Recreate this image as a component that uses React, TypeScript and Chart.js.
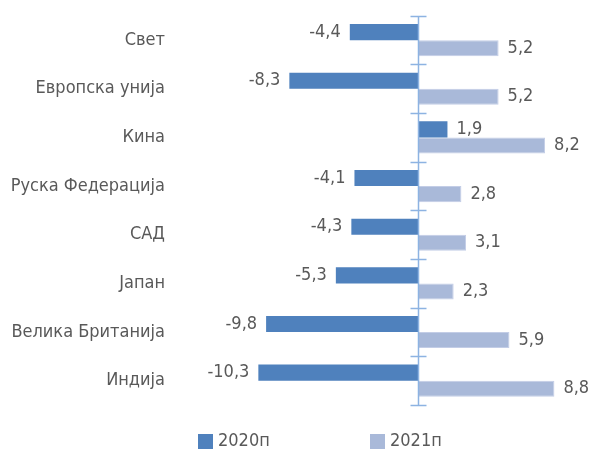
import React, { useEffect, useRef } from "react";
import { Chart, registerables } from "chart.js";

Chart.register(...registerables);

const categories = [
  "Свет",
  "Европска унија",
  "Кина",
  "Руска Федерација",
  "САД",
  "Јапан",
  "Велика Британија",
  "Индија",
];
const series2020 = [-4.4, -8.3, 1.9, -4.1, -4.3, -5.3, -9.8, -10.3];
const series2021 = [5.2, 5.2, 8.2, 2.8, 3.1, 2.3, 5.9, 8.8];
const seriesNames = ["2020п", "2021п"];

const DARK = "#4f81bd";
const LIGHT = "#a9b9d9";
const TEXT = "#595959";
const AXIS = "#8db3e2";
const FONT = "'DejaVu Sans Condensed', 'Liberation Sans Narrow', sans-serif";

const fmt = (v: number) => v.toFixed(1).replace(".", ",");

const overlayPlugin = {
  id: "overlay",
  afterDatasetsDraw(chart: any) {
    const { ctx, scales } = chart;
    const x = scales.x;
    const x0 = Math.round(x.getPixelForValue(0)) + 0.5;
    ctx.save();
    // zero axis with tick marks at category boundaries
    ctx.strokeStyle = AXIS;
    ctx.lineWidth = 1.5;
    ctx.beginPath();
    ctx.moveTo(x0, chart.chartArea.top);
    ctx.lineTo(x0, chart.chartArea.bottom);
    const n = categories.length;
    const step = (chart.chartArea.bottom - chart.chartArea.top) / n;
    for (let i = 0; i <= n; i++) {
      const yy = Math.round(chart.chartArea.top + i * step) + 0.5;
      ctx.moveTo(x0 - 8, yy);
      ctx.lineTo(x0 + 8, yy);
    }
    ctx.stroke();

    // data labels
    ctx.font = `18px ${FONT}`;
    ctx.fillStyle = TEXT;
    ctx.textBaseline = "middle";
    chart.data.datasets.forEach((ds: any, di: number) => {
      const meta = chart.getDatasetMeta(di);
      meta.data.forEach((bar: any, i: number) => {
        const v = ds.data[i];
        if (v < 0) {
          ctx.textAlign = "right";
          ctx.fillText(fmt(v), bar.x - 9, bar.y);
        } else {
          ctx.textAlign = "left";
          ctx.fillText(fmt(v), bar.x + 9, bar.y);
        }
      });
    });

    // legend
    const items = [
      { label: seriesNames[0], color: DARK, x: 198 },
      { label: seriesNames[1], color: LIGHT, x: 370 },
    ];
    ctx.textAlign = "left";
    items.forEach((it) => {
      ctx.fillStyle = it.color;
      ctx.fillRect(it.x, 434, 15, 15);
      ctx.fillStyle = TEXT;
      ctx.fillText(it.label, it.x + 20, 441);
    });
    ctx.restore();
  },
};

export default function App() {
  const ref = useRef<HTMLCanvasElement>(null);
  useEffect(() => {
    if (!ref.current) return;
    const chart = new Chart(ref.current, {
      type: "bar",
      data: {
        labels: categories,
        datasets: [
          {
            label: seriesNames[0],
            data: series2020,
            backgroundColor: DARK,
            borderWidth: 0,
          },
          {
            label: seriesNames[1],
            data: series2021,
            backgroundColor: LIGHT,
            borderColor: "#c3cde6",
            borderWidth: 1,
          },
        ],
      },
      options: {
        indexAxis: "y",
        animation: false,
        responsive: true,
        maintainAspectRatio: false,
        layout: { padding: { top: 15, bottom: 45, left: 0, right: 17 } },
        datasets: {
          bar: { categoryPercentage: 0.66, barPercentage: 1 },
        },
        plugins: {
          legend: { display: false },
          tooltip: { enabled: false },
        },
        scales: {
          x: {
            display: false,
            min: -16,
            max: 10,
          },
          y: {
            grid: { display: false, drawTicks: false },
            border: { display: false },
            ticks: {
              color: TEXT,
              font: { family: FONT, size: 18 },
              padding: 5,
            },
            afterFit(scale: any) {
              scale.width = 170;
            },
          },
        },
      },
      plugins: [overlayPlugin],
    });
    return () => chart.destroy();
  }, []);
  return (
    <div style={{ position: "absolute", left: 0, top: 0, width: 590, height: 450 }}>
      <canvas ref={ref} />
    </div>
  );
}
